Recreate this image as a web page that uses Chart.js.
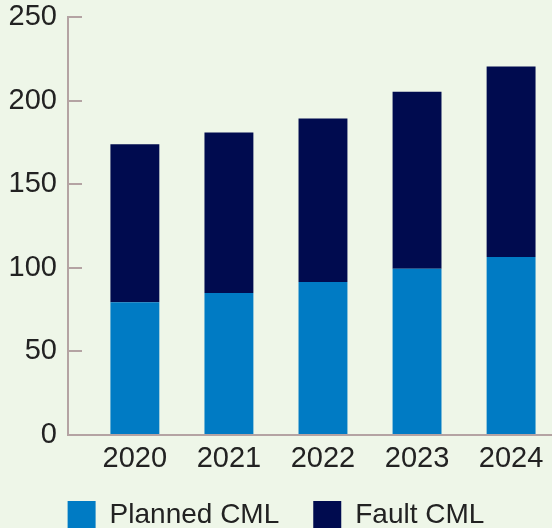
<!DOCTYPE html>
<html>
<head>
<meta charset="utf-8">
<script src="https://cdn.jsdelivr.net/npm/chart.js@4"></script>
<style>
  html, body { margin: 0; padding: 0; overflow: hidden; background: #eef6e8; }
  #wrap { width: 552px; height: 539px; }
</style>
</head>
<body>
<div id="wrap"><canvas id="canvas" width="552" height="539"></canvas></div>
<script>
// values
var years = [2020, 2021, 2022, 2023, 2024];
var planned = [79.5, 85, 91.5, 99.5, 106.5];
var fault = [94.5, 96, 98, 106, 114];
var yTicks = [0, 50, 100, 150, 200, 250];

var axisColor = '#b4a3a3';
var textColor = '#222222';

Chart.defaults.font.family = "'Liberation Sans', Arial, sans-serif";
Chart.defaults.font.size = 28;
Chart.defaults.color = textColor;

const ctx = document.getElementById('canvas');

new Chart(ctx, {
  type: 'bar',
  data: {
    datasets: [{
      label: 'Planned CML',
      data: planned.map((v, i) => ({ x: years[i], y: v })),
      backgroundColor: '#007bc4',
      borderWidth: 0
    }, {
      label: 'Fault CML',
      data: fault.map((v, i) => ({ x: years[i], y: v })),
      backgroundColor: '#000b4f',
      borderWidth: 0
    }]
  },
  options: {
    responsive: false,
    animation: false,
    devicePixelRatio: 1,
    layout: { padding: 0 },
    datasets: {
      bar: { barPercentage: 0.52, categoryPercentage: 1 }
    },
    plugins: {
      tooltip: { enabled: false },
      legend: {
        position: 'bottom',
        labels: {
          boxWidth: 28,
          boxHeight: 28,
          padding: 34,
          color: textColor,
          font: { size: 28 }
        }
      }
    },
    scales: {
      x: {
        type: 'linear',
        stacked: true,
        offset: false,
        min: 2019.289,
        max: 2024.435,
        afterBuildTicks: s => { s.ticks = years.map(v => ({ value: v })); },
        afterFit: s => { s.height = 32; s.paddingLeft = 0; s.paddingRight = 0; },
        grid: { display: true, offset: false, drawOnChartArea: false, drawTicks: false },
        border: { display: true, color: axisColor, width: 2 },
        ticks: {
          padding: 15,
          font: { size: 29, lineHeight: 0.6 },
          callback: v => String(v)
        }
      },
      y: {
        stacked: true,
        min: 0,
        max: 250,
        afterBuildTicks: s => { s.ticks = yTicks.map(v => ({ value: v })); },
        afterFit: s => { s.width = 68; s.paddingTop = 17.3; s.paddingBottom = 0; },
        grid: {
          drawOnChartArea: false,
          drawTicks: true,
          tickLength: -14,
          color: axisColor,
          lineWidth: 2
        },
        border: { display: true, color: axisColor, width: 2 },
        ticks: {
          padding: 25,
          font: { size: 29 }
        }
      }
    }
  }
});
</script>
</body>
</html>
